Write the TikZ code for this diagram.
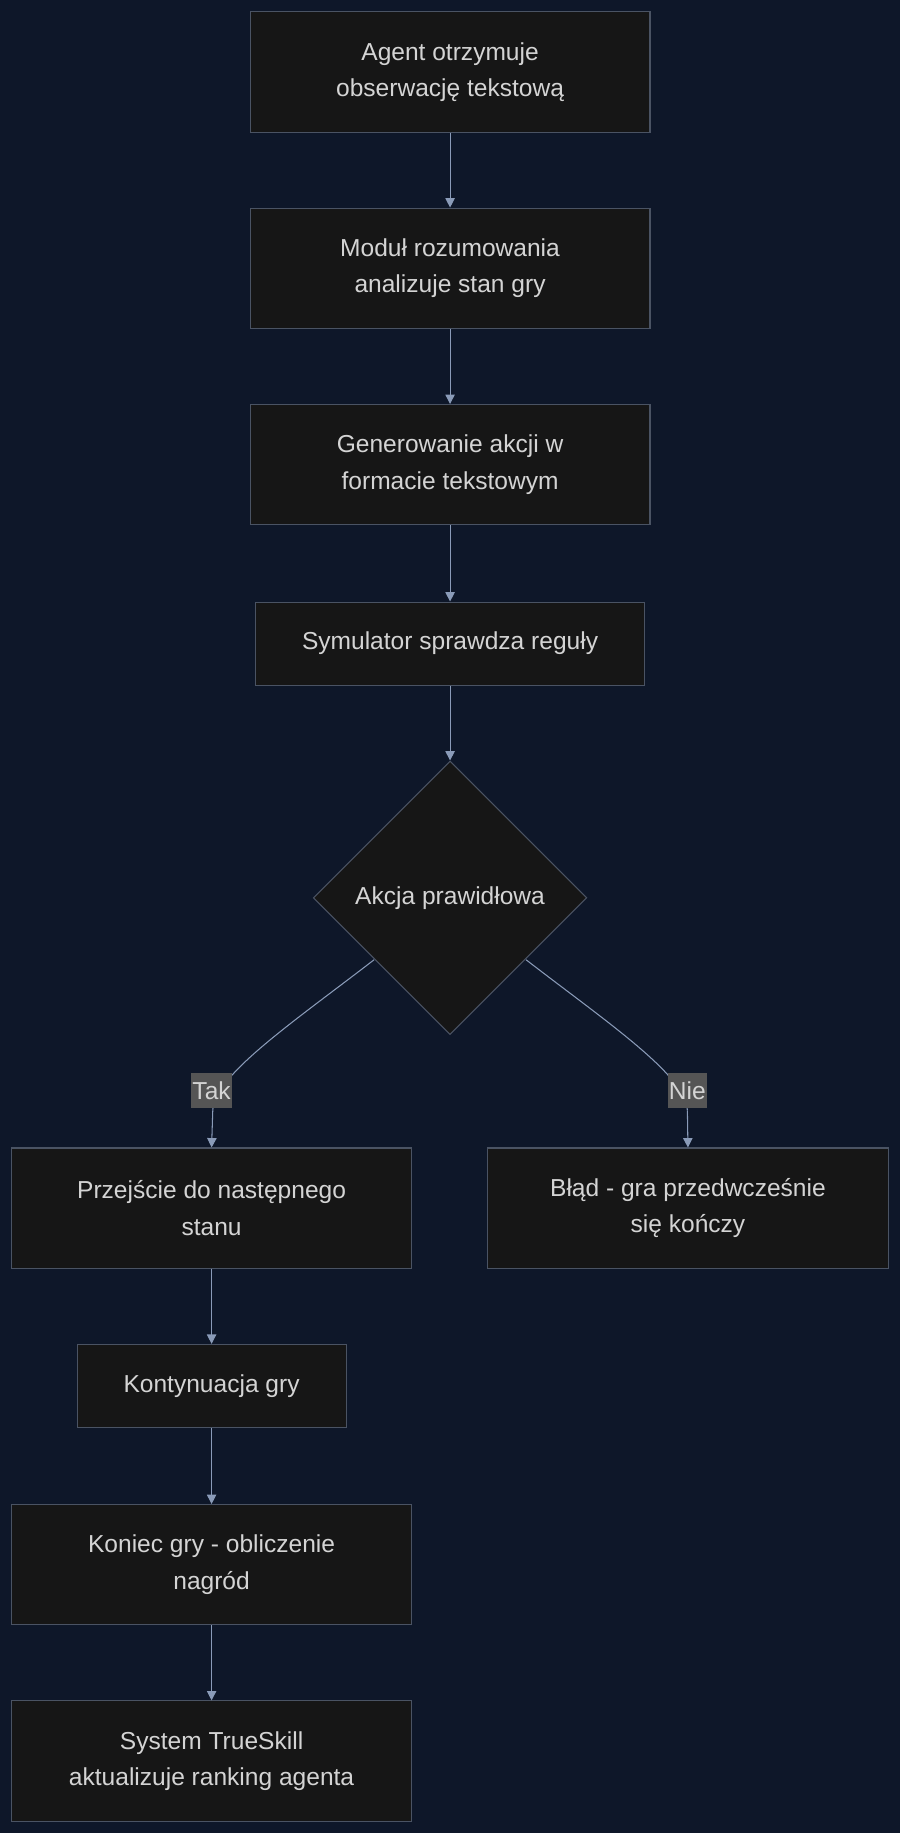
\documentclass[tikz,border=0pt]{standalone}
\usepackage{fontspec}
\setmainfont{Liberation Sans}
\usetikzlibrary{shapes.geometric,arrows.meta}
\definecolor{bg}{HTML}{0E1729}
\definecolor{boxf}{HTML}{161616}
\definecolor{boxd}{HTML}{4A5363}
\definecolor{arr}{HTML}{8A9BB8}
\definecolor{txt}{HTML}{D4D4D4}
\definecolor{lab}{HTML}{555555}
\begin{document}
\begin{tikzpicture}[x=1pt,y=-1pt,
  box/.style={draw=boxd,fill=boxf,line width=0.9pt,text=txt,align=center,inner sep=0pt,font=\fontsize{21}{31}\selectfont},
  conn/.style={draw=arr,line width=0.9pt,-{Triangle[length=8pt,width=8pt]}},
  lbl/.style={fill=lab,text=txt,inner sep=1pt,minimum height=30pt,font=\fontsize{21}{24}\selectfont}]
\fill[bg] (0,0) rectangle (770,1568);
\useasboundingbox (0,0) rectangle (770,1568);
\node[box,minimum width=342pt,minimum height=103pt] (a) at (385,61.5) {Agent otrzymuje\\obserwację tekstową};
\node[box,minimum width=342pt,minimum height=103pt] (b) at (385,229.5) {Moduł rozumowania\\ analizuje stan gry};
\node[box,minimum width=342pt,minimum height=103pt] (c) at (385,397.5) {Generowanie akcji w\\ formacie tekstowym};
\node[box,minimum width=333pt,minimum height=71pt] (d) at (385,550.5) {Symulator sprawdza reguły};
\node[box,diamond,minimum width=234pt,minimum height=234pt] (e) at (385,768) {Akcja prawidłowa};
\node[box,minimum width=342pt,minimum height=103pt] (f) at (181,1033.5) {Przejście do następnego\\stanu};
\node[box,minimum width=343pt,minimum height=103pt] (g) at (588.5,1033.5) {Błąd - gra przedwcześnie\\się kończy};
\node[box,minimum width=230pt,minimum height=71pt] (h) at (181,1185.5) {Kontynuacja gry};
\node[box,minimum width=342pt,minimum height=103pt] (i) at (181,1338.5) {Koniec gry - obliczenie\\nagród};
\node[box,minimum width=342pt,minimum height=103pt] (j) at (181,1506.5) {System TrueSkill\\aktualizuje ranking agenta};
\draw[conn] (a) -- (b);
\draw[conn] (b) -- (c);
\draw[conn] (c) -- (d);
\draw[conn] (d) -- (e);
\draw[conn] (f) -- (h);
\draw[conn] (h) -- (i);
\draw[conn] (i) -- (j);
\coordinate (l1) at (320,821);
\coordinate (r1) at (450,821);
\draw[draw=arr,line width=0.9pt] (l1) .. controls (250,875) and (183,920) .. (182,950);
\draw[conn] (182,950) -- (f.north);
\draw[draw=arr,line width=0.9pt] (r1) .. controls (520,875) and (587,920) .. (588,950);
\draw[conn] (588,950) -- (g.north);
\node[lbl] (t) at (181,933) {Tak};
\node[lbl] (n) at (588,933) {Nie};
\end{tikzpicture}
\end{document}
